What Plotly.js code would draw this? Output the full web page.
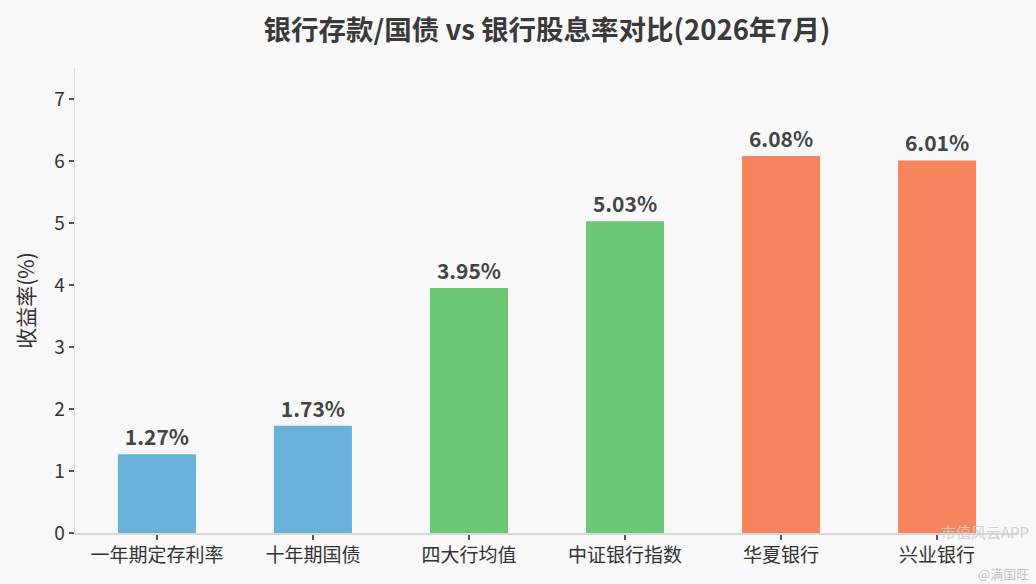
<!DOCTYPE html>
<html>
<head>
<meta charset="utf-8">
<script src="https://cdn.plot.ly/plotly-3.0.1.min.js"></script>
<style>html,body{margin:0;padding:0;background:#f8f8f9;}#chart{width:1036px;height:584px;}</style>
</head>
<body>
<div id="chart"></div>
<script>
const categories = ["一年期定存利率", "十年期国债", "四大行均值", "中证银行指数", "华夏银行", "兴业银行"];
const values = [1.27, 1.73, 3.95, 5.03, 6.08, 6.01];
const barColors = ["#6ab1d7", "#6ab1d7", "#6cc874", "#6cc874", "#f5845f", "#f5845f"];
const valueLabels = values.map(v => v.toFixed(2) + "%");
const yTicks = [0, 1, 2, 3, 4, 5, 6, 7];

const font = "'Noto Sans CJK SC', 'Noto Sans', sans-serif";

const trace = {
  type: "bar",
  x: categories,
  y: values,
  width: 0.5,
  marker: {color: barColors, line: {width: 0}},
  text: valueLabels,
  textposition: "outside",
  cliponaxis: false,
  textfont: {family: font, size: 21, color: "#444444", weight: "bold"},
  hoverinfo: "none"
};

const layout = {
  width: 1036,
  height: 584,
  paper_bgcolor: "#f8f8f9",
  plot_bgcolor: "#f8f8f9",
  margin: {l: 75, r: 17, t: 68, b: 51},
  showlegend: false,
  title: {
    text: "<b>银行存款/国债 vs 银行股息率对比(2026年7月)</b>",
    font: {family: font, size: 27.5, color: "#3a3a3a"},
    x: 0.5, xref: "paper", y: 0.948, yref: "container", yanchor: "middle"
  },
  xaxis: {
    type: "category",
    range: [-0.525, 5.525],
    showline: true, linecolor: "#d8d8d8", linewidth: 1.5,
    ticks: "outside", ticklen: 5, tickcolor: "#555", tickwidth: 1.3,
    tickfont: {family: font, size: 19, color: "#333333"},
    showgrid: false, zeroline: false, fixedrange: true
  },
  yaxis: {
    range: [0, 7.5],
    tickvals: yTicks,
    showline: true, linecolor: "#d8d8d8", linewidth: 1.5,
    ticks: "outside", ticklen: 5, tickcolor: "#555", tickwidth: 1.3,
    tickfont: {family: font, size: 19, color: "#333333"},
    showgrid: false, zeroline: false,
    title: {text: "收益率(%)", font: {family: font, size: 21, color: "#333333"}, standoff: 14},
    fixedrange: true
  },
  annotations: [
    {text: "市值风云APP", xref: "paper", yref: "paper", x: 1.012, y: 0.004, xanchor: "right", yanchor: "middle",
     borderpad: 0, showarrow: false, font: {family: font, size: 15, color: "rgba(205,205,205,0.9)"}},
    {text: "@满国旺", xref: "paper", yref: "paper", x: 1.012, y: -0.11, xanchor: "right", yanchor: "bottom",
     borderpad: 0, showarrow: false, font: {family: font, size: 13, color: "rgba(190,190,190,0.9)"}}
  ]
};

Plotly.newPlot("chart", [trace], layout, {staticPlot: true, displayModeBar: false});
</script>
</body>
</html>
